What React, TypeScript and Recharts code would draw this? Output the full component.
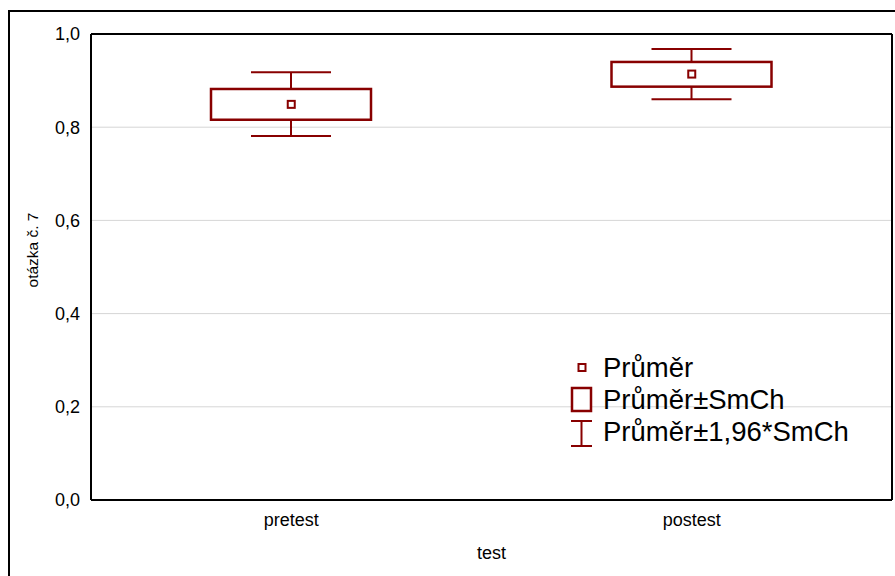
import React from 'react';
import { ComposedChart, Bar, Scatter, XAxis, YAxis, CartesianGrid } from 'recharts';

const categories = ['pretest', 'postest'];
const means = [0.849, 0.914];
const seLow = [0.816, 0.887];
const seHigh = [0.882, 0.94];
const ciLow = [0.781, 0.86];
const ciHigh = [0.918, 0.968];
const yTicks = [0, 0.2, 0.4, 0.6, 0.8, 1.0];
const innerTicks = [0.2, 0.4, 0.6, 0.8, 1.0];
const legendLabels = ['Průměr', 'Průměr±SmCh', 'Průměr±1,96*SmCh'];
const xTitle = 'test';
const yTitle = 'otázka č. 7';

const data = categories.map((cat, i) => ({
  cat,
  base: ciLow[i],
  lowWhisker: seLow[i] - ciLow[i],
  box: seHigh[i] - seLow[i],
  highWhisker: ciHigh[i] - seHigh[i],
  mean: means[i],
}));

const RED = '#880000';
const FONT = '"Liberation Sans", Arial, sans-serif';

const LowWhisker = (p: any) => {
  const cx = p.x + p.width / 2;
  const cap = p.width / 4;
  const yb = p.y + p.height;
  return (
    <g>
      <line x1={cx} x2={cx} y1={p.y} y2={yb} stroke={RED} strokeWidth={2} />
      <line x1={cx - cap} x2={cx + cap} y1={yb} y2={yb} stroke={RED} strokeWidth={2} />
    </g>
  );
};

const HighWhisker = (p: any) => {
  const cx = p.x + p.width / 2;
  const cap = p.width / 4;
  return (
    <g>
      <line x1={cx} x2={cx} y1={p.y} y2={p.y + p.height} stroke={RED} strokeWidth={2} />
      <line x1={cx - cap} x2={cx + cap} y1={p.y} y2={p.y} stroke={RED} strokeWidth={2} />
    </g>
  );
};

const BoxShape = (p: any) => (
  <rect x={p.x} y={p.y} width={p.width} height={p.height} fill="#fff" stroke={RED} strokeWidth={2.5} />
);

const MeanShape = (p: any) => (
  <rect x={p.cx - 3.5} y={p.cy - 3.5} width={7} height={7} fill="#fff" stroke={RED} strokeWidth={2} />
);

const fmt = (v: number) => v.toFixed(1).replace('.', ',');

const XLabel = (props: any) => {
  const vb = props.viewBox || {};
  return (
    <text x={vb.x + vb.width / 2} y={vb.y + 59} textAnchor="middle" fontSize={18} fontFamily={FONT} fill="#000">
      {xTitle}
    </text>
  );
};

const YLabel = (props: any) => {
  const vb = props.viewBox || {};
  const cx = 32;
  const cy = vb.y + vb.height / 2 - 17;
  return (
    <text
      x={cx}
      y={cy}
      transform={`rotate(-90 ${cx} ${cy})`}
      textAnchor="middle"
      dominantBaseline="central"
      fontSize={15.5}
      fontFamily={FONT}
      fill="#000"
    >
      {yTitle}
    </text>
  );
};

export default function App() {
  const axisLine = { stroke: '#000', strokeWidth: 2 };
  const tickLine = { stroke: '#000', strokeWidth: 1.5 };
  const tickStyle = { fill: '#000', fontSize: 18, fontFamily: FONT };
  return (
    <div style={{ position: 'fixed', left: 0, top: 0, width: 895, height: 576, overflow: 'hidden', background: '#fff' }}>
      <div
        style={{
          position: 'absolute',
          left: 8,
          top: 10,
          width: 1000,
          height: 1000,
          borderLeft: '2px solid #000',
          borderTop: '2px solid #000',
        }}
      />
      <div style={{ position: 'absolute', left: 0, top: 0 }}>
        <ComposedChart width={895} height={576} data={data} margin={{ top: 34, right: 3, bottom: 0, left: 0 }}>
          <CartesianGrid horizontal vertical={false} stroke="#d6d6d6" strokeWidth={1} xAxisId="main" yAxisId="main" />
          <XAxis
            xAxisId="main"
            dataKey="cat"
            orientation="bottom"
            height={76}
            axisLine={axisLine}
            tickLine={false}
            tickSize={0}
            tickMargin={13}
            tick={tickStyle}
            label={XLabel}
          />
          <XAxis xAxisId="top" dataKey="cat" orientation="top" mirror tick={false} tickSize={4} tickLine={tickLine} axisLine={axisLine} />
          <XAxis xAxisId="bm" dataKey="cat" orientation="bottom" mirror tick={false} tickSize={4} tickLine={tickLine} axisLine={false} />
          <YAxis
            yAxisId="main"
            domain={[0, 1]}
            ticks={yTicks}
            type="number"
            width={91}
            axisLine={axisLine}
            tickLine={false}
            tickSize={0}
            tickMargin={11}
            tick={tickStyle}
            tickFormatter={fmt}
            label={YLabel}
          />
          <YAxis yAxisId="lm" orientation="left" mirror domain={[0, 1]} allowDataOverflow ticks={innerTicks} type="number" tick={false} tickSize={4} tickLine={tickLine} axisLine={false} />
          <YAxis yAxisId="r" orientation="right" mirror domain={[0, 1]} allowDataOverflow ticks={innerTicks} type="number" tick={false} tickSize={4} tickLine={tickLine} axisLine={axisLine} />
          <Bar xAxisId="main" yAxisId="main" dataKey="base" stackId="s" barSize={160} fill="none" isAnimationActive={false} />
          <Bar xAxisId="main" yAxisId="main" dataKey="lowWhisker" stackId="s" barSize={160} shape={LowWhisker} isAnimationActive={false} />
          <Bar xAxisId="main" yAxisId="main" dataKey="box" stackId="s" barSize={160} shape={BoxShape} isAnimationActive={false} />
          <Bar xAxisId="main" yAxisId="main" dataKey="highWhisker" stackId="s" barSize={160} shape={HighWhisker} isAnimationActive={false} />
          <Scatter xAxisId="main" yAxisId="main" dataKey="mean" shape={MeanShape} isAnimationActive={false} />
        </ComposedChart>
      </div>
      <svg width={895} height={576} style={{ position: 'absolute', left: 0, top: 0, pointerEvents: 'none' }}>
        <rect x={578.5} y={364} width={7} height={7} fill="#fff" stroke={RED} strokeWidth={2} />
        <rect x={572} y={388} width={19} height={23} fill="#fff" stroke={RED} strokeWidth={2.5} />
        <line x1={581.5} x2={581.5} y1={421} y2={446} stroke={RED} strokeWidth={2} />
        <line x1={571} x2={592} y1={421} y2={421} stroke={RED} strokeWidth={2} />
        <line x1={571} x2={592} y1={446} y2={446} stroke={RED} strokeWidth={2} />
        {legendLabels.map((t, i) => (
          <text key={t} x={603} y={377 + i * 32} fontSize={27.5} fontFamily={FONT} fill="#000">
            {t}
          </text>
        ))}
      </svg>
    </div>
  );
}
